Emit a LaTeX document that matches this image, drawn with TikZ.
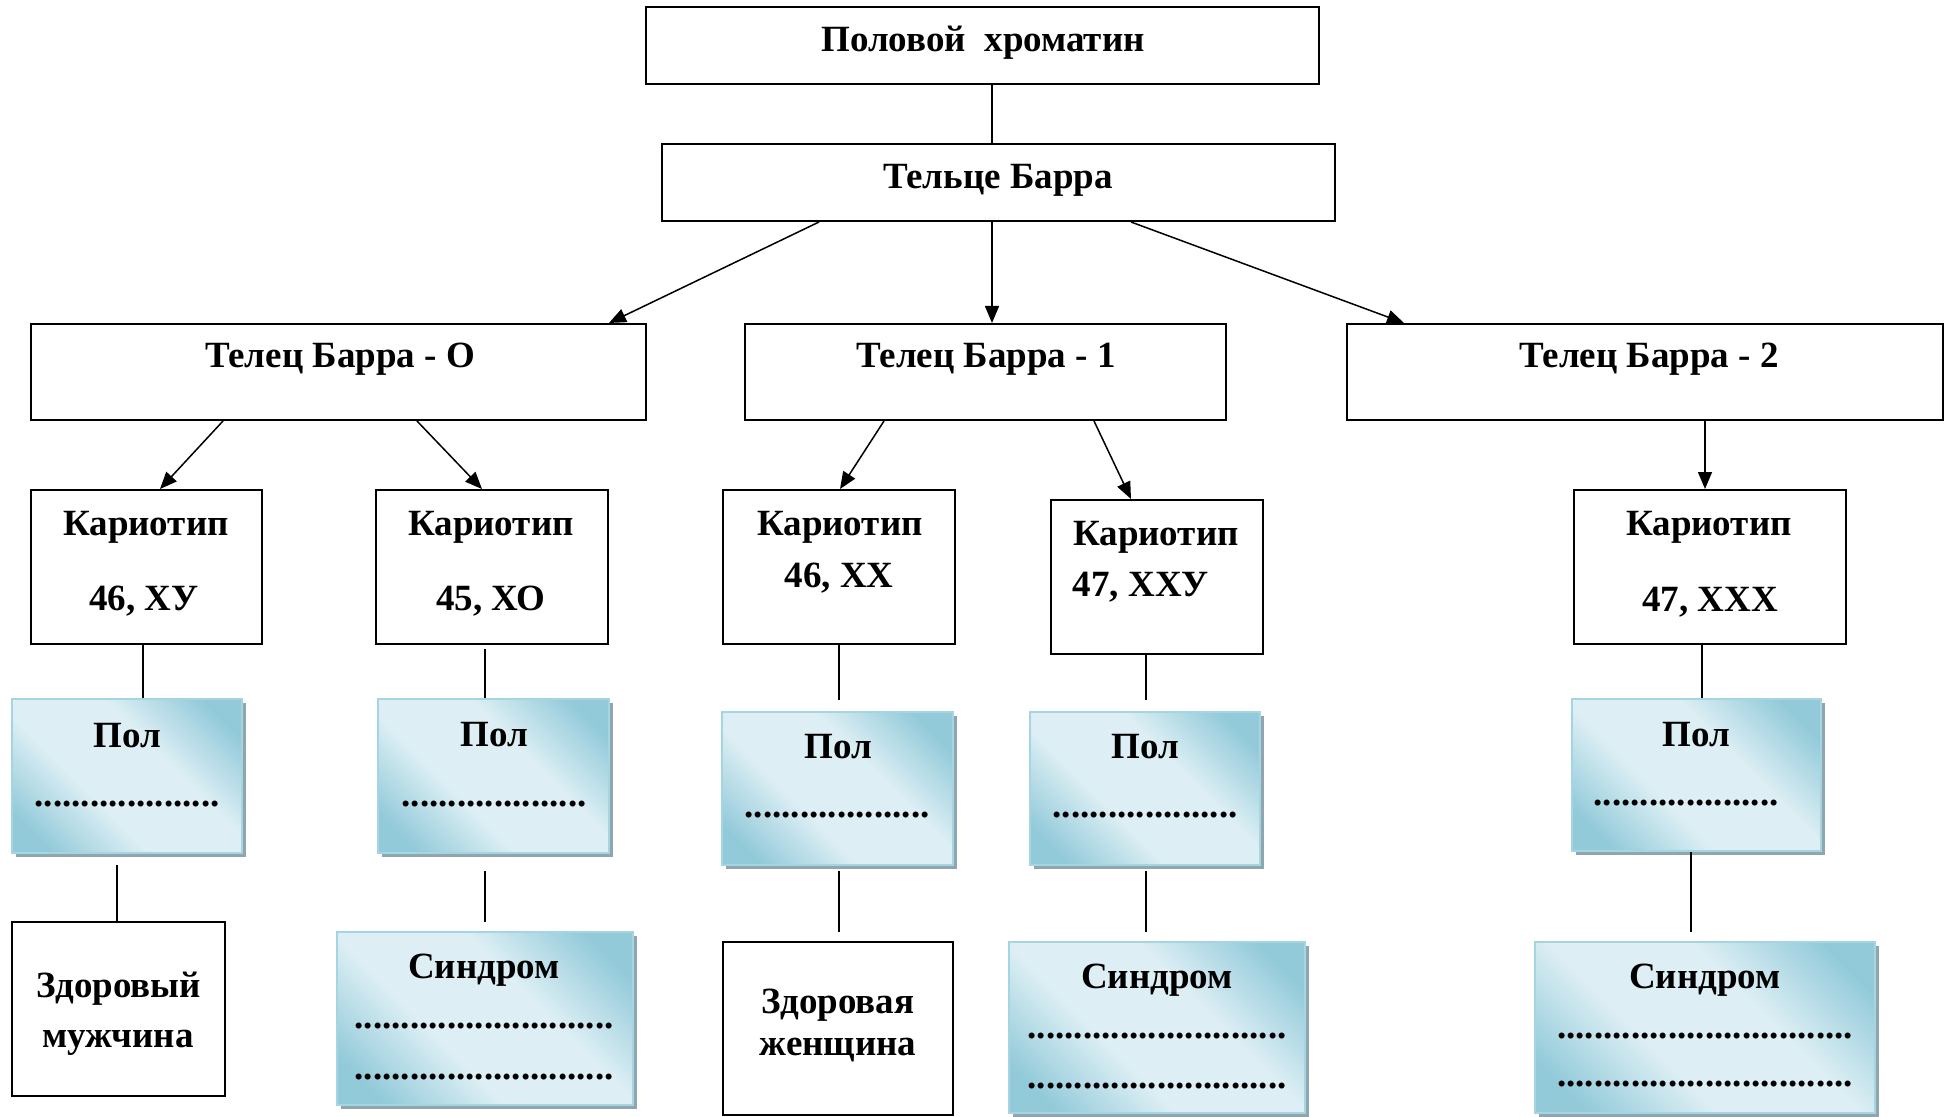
\documentclass[tikz,border=0pt]{standalone}
\usepackage{fontspec}
\setmainfont{Liberation Serif}
\usetikzlibrary{arrows.meta,fit,shadows}

\definecolor{cyanDark}{HTML}{93CADA}
\definecolor{cyanLight}{HTML}{DDEFF4}
\definecolor{cyanEdge}{HTML}{A6D5E2}
\definecolor{shadowGray}{HTML}{8FA6AE}

% diagonal band: dark corners, wide light centre
\pgfdeclarehorizontalshading{barrshade}{100bp}{%
  color(0bp)=(cyanDark); color(22bp)=(cyanDark); color(40bp)=(cyanLight);
  color(60bp)=(cyanLight); color(78bp)=(cyanDark); color(100bp)=(cyanDark)}

\newcommand\dotrow[1]{\foreach \i in {1,...,#1}{.}}

\tikzset{
  plain/.style={draw=black, line width=1pt, fill=white, inner sep=0pt},
  tinted/.style={inner sep=0pt,
    drop shadow={shadow xshift=1.8pt, shadow yshift=-1.8pt, fill=shadowGray, opacity=1},
    draw=cyanEdge, line width=1.2pt, shade, shading=barrshade, shading angle=45},
  lbl/.style={font=\bfseries\fontsize{18.5}{22}\selectfont, inner sep=0pt, anchor=base},
  conn/.style={draw=black, line width=0.75pt},
  arr/.style={conn, -{Triangle[length=8.5pt,width=7pt]}},
}

\begin{document}
\begin{tikzpicture}[x=0.5pt, y=-0.5pt]
\useasboundingbox (0,0) rectangle (1948,1117);

% ---- boxes ----
\node[plain, fit={(646,7) (1319,84)}]     (hc) {};
\node[plain, fit={(662,144) (1335,221)}]  (tb) {};
\node[plain, fit={(31,324) (646,420)}]    (t0) {};
\node[plain, fit={(745,324) (1226,420)}]  (t1) {};
\node[plain, fit={(1347,324) (1943,420)}] (t2) {};

\node[plain, fit={(31,490) (262,644)}]    (k1) {};
\node[plain, fit={(376,490) (608,644)}]   (k2) {};
\node[plain, fit={(723,490) (955,644)}]   (k3) {};
\node[plain, fit={(1051,500) (1263,654)}] (k4) {};
\node[plain, fit={(1574,490) (1846,644)}] (k5) {};

\node[tinted, fit={(12,699) (242,853)}]    (p1) {};
\node[tinted, fit={(378,699) (609,853)}]   (p2) {};
\node[tinted, fit={(722,712) (953,865)}]   (p3) {};
\node[tinted, fit={(1030,712) (1260,865)}] (p4) {};
\node[tinted, fit={(1572,699) (1821,851)}] (p5) {};

\node[plain, fit={(12,922) (225,1096)}]    (z1) {};
\node[tinted, fit={(337,932) (633,1105)}]  (s2) {};
\node[plain, fit={(723,942) (953,1115)}]   (z2) {};
\node[tinted, fit={(1009,942) (1305,1113)}] (s4) {};
\node[tinted, fit={(1535,942) (1875,1113)}] (s5) {};

% ---- texts ----
\node[lbl] (hcT) at (983,52)   {Половой\ \ хроматин};
\node[lbl] (tbT) at (998,189)  {Тельце Барра};
\node[lbl] (t0T) at (340,368)  {Телец Барра - О};
\node[lbl] (t1T) at (986,368)  {Телец Барра - 1};
\node[lbl] (t2T) at (1649,368) {Телец Барра - 2};

\node[lbl] (k1a) at (146,535)  {Кариотип};
\node[lbl] (k1b) at (144,610)  {46, ХУ};
\node[lbl] (k2a) at (491,535)  {Кариотип};
\node[lbl] (k2b) at (491,610)  {45, ХО};
\node[lbl] (k3a) at (840,535)  {Кариотип};
\node[lbl] (k3b) at (839,587)  {46, ХХ};
\node[lbl] (k4a) at (1156,545) {Кариотип};
\node[lbl] (k4b) at (1141,596) {47, ХХУ};
\node[lbl] (k5a) at (1709,535) {Кариотип};
\node[lbl] (k5b) at (1710,611) {47, ХХХ};

\node[lbl] (p1a) at (127,747)  {Пол};
\node[lbl] (p1b) at (127,806)  {\dotrow{20}};
\node[lbl] (p2a) at (494,746)  {Пол};
\node[lbl] (p2b) at (494,806)  {\dotrow{20}};
\node[lbl] (p3a) at (838,758)  {Пол};
\node[lbl] (p3b) at (837,817)  {\dotrow{20}};
\node[lbl] (p4a) at (1145,758) {Пол};
\node[lbl] (p4b) at (1145,817) {\dotrow{20}};
\node[lbl] (p5a) at (1696,746) {Пол};
\node[lbl] (p5b) at (1686,805) {\dotrow{20}};

\node[lbl] (z1a) at (119,997)  {Здоровый};
\node[lbl] (z1b) at (118,1047) {мужчина};
\node[lbl] (z2a) at (838,1013) {Здоровая};
\node[lbl] (z2b) at (838,1055) {женщина};

\node[lbl] (s2a) at (484,978)  {Синдром};
\node[lbl] (s2b) at (484,1028) {\dotrow{28}};
\node[lbl] (s2c) at (484,1079) {\dotrow{28}};
\node[lbl] (s4a) at (1157,988) {Синдром};
\node[lbl] (s4b) at (1157,1038) {\dotrow{28}};
\node[lbl] (s4c) at (1157,1088) {\dotrow{28}};
\node[lbl] (s5a) at (1705,988) {Синдром};
\node[lbl] (s5b) at (1705,1038) {\dotrow{32}};
\node[lbl] (s5c) at (1705,1086) {\dotrow{32}};

% ---- connector columns ----
\coordinate (xA) at (992,0);
\coordinate (xB) at (819,0);   \coordinate (xBt) at (609,0);
\coordinate (xC) at (1131,0);  \coordinate (xCt) at (1404,0);
\coordinate (xD) at (223,0);   \coordinate (xDt) at (160,0);
\coordinate (xE) at (417,0);   \coordinate (xEt) at (482,0);
\coordinate (xF) at (884,0);   \coordinate (xFt) at (840,0);
\coordinate (xG) at (1094,0);  \coordinate (xGt) at (1131,0);
\coordinate (xH) at (1705,0);
\coordinate (v1) at (143,0);
\coordinate (v2) at (485,0);
\coordinate (v3) at (839,0);
\coordinate (v4) at (1146,0);
\coordinate (v5) at (1702,0);
\coordinate (w1) at (117,0);
\coordinate (w5) at (1691,0);

% ---- connectors ----
\draw[conn] (hc.south -| xA) -- (tb.north -| xA);
\draw[arr]  (tb.south -| xB) -- (t0.north -| xBt);
\draw[arr]  (tb.south -| xA) -- (t1.north -| xA);
\draw[arr]  (tb.south -| xC) -- (t2.north -| xCt);

\draw[arr]  (t0.south -| xD) -- (k1.north -| xDt);
\draw[arr]  (t0.south -| xE) -- (k2.north -| xEt);
\draw[arr]  (t1.south -| xF) -- (k3.north -| xFt);
\draw[arr]  (t1.south -| xG) -- (k4.north -| xGt);
\draw[arr]  (t2.south -| xH) -- (k5.north -| xH);

\draw[conn] (k1.south -| v1) -- (p1.north -| v1);
\draw[conn, shorten <=2pt] (k2.south -| v2) -- (p2.north -| v2);
\draw[conn, shorten >=5.5pt] (k3.south -| v3) -- (p3.north -| v3);
\draw[conn, shorten >=5.5pt] (k4.south -| v4) -- (p4.north -| v4);
\draw[conn] (k5.south -| v5) -- (p5.north -| v5);

\draw[conn, shorten <=5.5pt] (p1.south -| w1) -- (z1.north -| w1);
\draw[conn, shorten <=8.5pt, shorten >=4.5pt] (p2.south -| v2) -- (s2.north -| v2);
\draw[conn, shorten <=2.5pt, shorten >=4.5pt] (p3.south -| v3) -- (z2.north -| v3);
\draw[conn, shorten <=2.5pt, shorten >=4.5pt] (p4.south -| v4) -- (s4.north -| v4);
\draw[conn, shorten >=4.5pt] (p5.south -| w5) -- (s5.north -| w5);
\end{tikzpicture}
\end{document}
